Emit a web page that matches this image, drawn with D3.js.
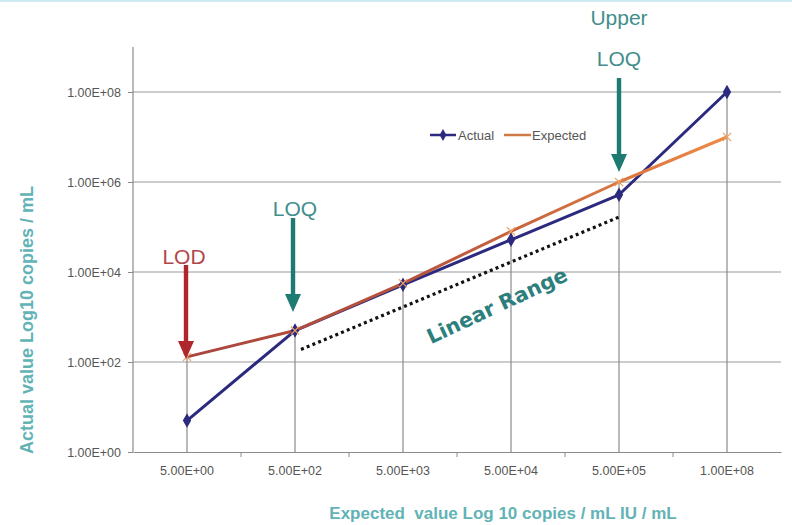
<!DOCTYPE html>
<html>
<head>
<meta charset="utf-8">
<script src="https://cdn.jsdelivr.net/npm/d3@7"></script>
<style>
  html, body { margin: 0; padding: 0; background: #fff; }
  svg { display: block; font-family: "Liberation Sans", Arial, sans-serif; }
</style>
</head>
<body>
<svg id="chart" width="792" height="525"></svg>
<script>
// ---- data ----
const categories = ["5.00E+00", "5.00E+02", "5.00E+03", "5.00E+04", "5.00E+05", "1.00E+08"];
const actualValues = [5, 500, 5200, 52000, 520000, 1.0e8];
const expectedValues = [130, 500, 5600, 80000, 1.0e6, 1.0e7];
const yTickValues = [1, 1e2, 1e4, 1e6, 1e8];
const yTickLabels = ["1.00E+00", "1.00E+02", "1.00E+04", "1.00E+06", "1.00E+08"];
const seriesNames = ["Actual", "Expected"];
const xTitle = "Expected  value Log 10 copies / mL IU / mL";
const yTitle = "Actual value Log10 copies / mL";
const linearRangeFrom = ["5.00E+02", 190];
const linearRangeTo = ["5.00E+05", 170000];

// ---- layout ----
const svg = d3.select("#chart");
const pLeft = 133, pRight = 781, pTop = 47, pBottom = 452;
const x = d3.scaleBand().domain(categories).range([pLeft, pRight]);
const cx = c => x(c) + x.bandwidth() / 2;
const y = d3.scaleLog().domain([1, 1e9]).range([pBottom, pTop]);

const navy = "#2b2a7e";
const defs = svg.append("defs");
const grad = defs.append("linearGradient").attr("id", "expGrad")
  .attr("gradientUnits", "userSpaceOnUse")
  .attr("x1", cx(categories[0])).attr("x2", cx(categories[5])).attr("y1", 0).attr("y2", 0);
grad.append("stop").attr("offset", "0%").attr("stop-color", "#a9453e");
grad.append("stop").attr("offset", "45%").attr("stop-color", "#b8553c");
grad.append("stop").attr("offset", "100%").attr("stop-color", "#ee8a45");

// top thin light band
svg.append("rect").attr("x", 0).attr("y", 0).attr("width", 792).attr("height", 2).attr("fill", "#cdeaf2");

// horizontal gridlines
svg.append("g").selectAll("line").data(yTickValues.slice(1)).join("line")
  .attr("x1", pLeft).attr("x2", pRight)
  .attr("y1", d => y(d)).attr("y2", d => y(d))
  .attr("stroke", "#9a9a9a").attr("stroke-width", 1.2);

// drop lines
svg.append("g").selectAll("line").data(categories).join("line")
  .attr("x1", d => cx(d)).attr("x2", d => cx(d))
  .attr("y1", (d, i) => y(Math.max(actualValues[i], expectedValues[i])))
  .attr("y2", pBottom)
  .attr("stroke", "#8a8a8a").attr("stroke-width", 1.2);

// y axis
const yAxis = d3.axisLeft(y).tickValues(yTickValues)
  .tickFormat((d, i) => yTickLabels[i]).tickSize(5).tickPadding(7);
const gy = svg.append("g").attr("transform", `translate(${pLeft},0)`).call(yAxis);
gy.select(".domain").attr("stroke", "#8a8a8a").attr("stroke-width", 1.2).attr("d", `M-0,${pTop}V${pBottom}`);
gy.selectAll(".tick line").attr("stroke", "#8a8a8a");
gy.selectAll(".tick text").attr("font-size", 12.5).attr("fill", "#555").attr("font-family", "Liberation Sans, Arial, sans-serif");

// x axis
const xAxis = d3.axisBottom(x).tickSize(0).tickPadding(14);
const gx = svg.append("g").attr("transform", `translate(0,${pBottom})`).call(xAxis);
gx.select(".domain").attr("stroke", "#8a8a8a").attr("stroke-width", 1.2);
gx.selectAll(".tick text").attr("font-size", 12.5).attr("fill", "#555").attr("font-family", "Liberation Sans, Arial, sans-serif");
// boundary ticks
svg.append("g").selectAll("line").data(categories.slice(1)).join("line")
  .attr("x1", d => x(d)).attr("x2", d => x(d))
  .attr("y1", pBottom).attr("y2", pBottom + 5)
  .attr("stroke", "#8a8a8a");

// lines
const line = d3.line().x((d, i) => cx(categories[i])).y(d => y(d));
svg.append("path").datum(actualValues).attr("d", line)
  .attr("fill", "none").attr("stroke", navy).attr("stroke-width", 3).attr("stroke-linejoin", "round");
svg.append("path").datum(expectedValues).attr("d", line)
  .attr("fill", "none").attr("stroke", "url(#expGrad)").attr("stroke-width", 3).attr("stroke-linejoin", "round");

// markers
svg.append("g").selectAll("path").data(actualValues).join("path")
  .attr("d", d3.symbol().type(d3.symbolDiamond).size(60))
  .attr("transform", (d, i) => `translate(${cx(categories[i])},${y(d)})`)
  .attr("fill", navy);
svg.append("g").selectAll("path").data(expectedValues).join("path")
  .attr("d", d3.symbol().type(d3.symbolX).size(45))
  .attr("transform", (d, i) => `translate(${cx(categories[i])},${y(d)})`)
  .attr("fill", "none").attr("stroke", "#f0a060").attr("stroke-width", 1.2);

// linear range dotted line
svg.append("line")
  .attr("x1", cx(linearRangeFrom[0]) + 6).attr("y1", y(linearRangeFrom[1]))
  .attr("x2", cx(linearRangeTo[0]) + 1).attr("y2", y(linearRangeTo[1]))
  .attr("stroke", "#111").attr("stroke-width", 3.2).attr("stroke-dasharray", "3,3.2");

svg.append("text").text("Linear Range")
  .attr("transform", "translate(500,312) rotate(-25)")
  .attr("text-anchor", "middle")
  .attr("font-family", "DejaVu Sans, Verdana, sans-serif").attr("font-weight", "bold")
  .attr("font-size", 20.5).attr("fill", "#2d7f7e");

// arrows
function arrow(xp, y0, y1, color) {
  const hw = 8, hl = 18, sw = 2.2;
  svg.append("path")
    .attr("d", `M${xp - sw},${y0} L${xp + sw},${y0} L${xp + sw},${y1 - hl} L${xp + hw},${y1 - hl} L${xp},${y1} L${xp - hw},${y1 - hl} L${xp - sw},${y1 - hl} Z`)
    .attr("fill", color);
}
const teal = "#1d7b72", tealText = "#428e8c", red = "#b0262d", redText = "#b2474b";
arrow(cx(categories[4]), 78, 172, teal);
arrow(cx(categories[1]) - 2, 218, 312, teal);
arrow(cx(categories[0]) - 1, 265, 359, red);

function label(txt, xp, yp, color) {
  svg.append("text").text(txt).attr("x", xp).attr("y", yp)
    .attr("text-anchor", "middle").attr("font-size", 21).attr("fill", color)
    .attr("font-family", "Liberation Sans, Arial, sans-serif");
}
label("Upper", cx(categories[4]), 25, tealText);
label("LOQ", cx(categories[4]), 66, tealText);
label("LOQ", cx(categories[1]), 216, tealText);
label("LOD", cx(categories[0]) - 3, 264, redText);

// legend
const lg = svg.append("g").attr("transform", "translate(430,135)");
lg.append("line").attr("x1", 0).attr("x2", 26).attr("y1", 0).attr("y2", 0).attr("stroke", navy).attr("stroke-width", 2.5);
lg.append("path").attr("d", d3.symbol().type(d3.symbolDiamond).size(40)).attr("transform", "translate(13,0)").attr("fill", navy);
lg.append("text").text(seriesNames[0]).attr("x", 28).attr("y", 5).attr("font-size", 13).attr("fill", "#555");
lg.append("line").attr("x1", 74).attr("x2", 101).attr("y1", 0).attr("y2", 0).attr("stroke", "#d07a48").attr("stroke-width", 2.5);
lg.append("text").text(seriesNames[1]).attr("x", 102).attr("y", 5).attr("font-size", 13).attr("fill", "#555");

// axis titles
svg.append("text").text(xTitle)
  .attr("x", 503).attr("y", 519).attr("text-anchor", "middle")
  .style("white-space", "pre")
  .attr("font-size", 17).attr("font-weight", "bold").attr("fill", "#62b3b5");
svg.append("text").text(yTitle)
  .attr("transform", "translate(33,320) rotate(-90)").attr("text-anchor", "middle")
  .attr("font-size", 18).attr("font-weight", "bold").attr("fill", "#62b3b5");
</script>
</body>
</html>
